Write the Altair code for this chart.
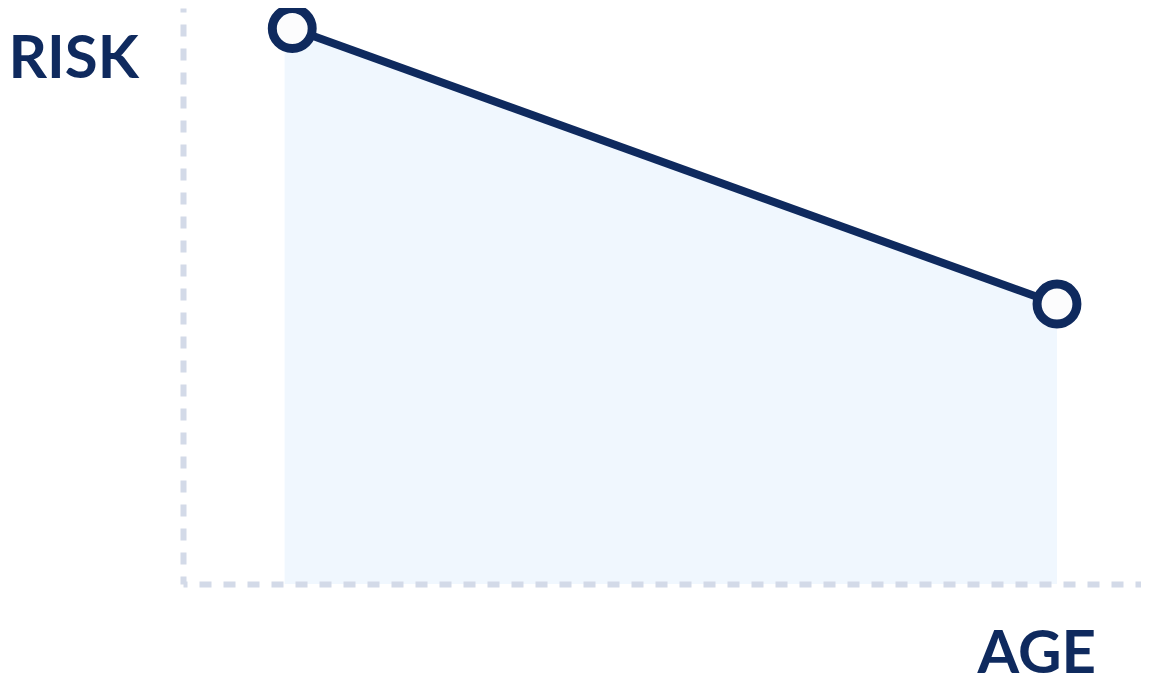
import altair as alt
import pandas as pd

# Schematic values
ages = [1, 8]
risks = [10, 5.04]
area_ages = [0.93, 8]
area_risks = [10.05, 5.04]

x_domain = [0, 8.769]
y_domain = [0, 10.37]

NAVY = "#0f2a5e"
DASH = "#d3dae8"
FILL = "#f0f7fe"

pts = pd.DataFrame({"age": ages, "risk": risks})
area_df = pd.DataFrame({"age": area_ages, "risk": area_risks})

x_scale = alt.Scale(domain=x_domain, nice=False, zero=False)
y_scale = alt.Scale(domain=y_domain, nice=False, zero=False)

x_axis = alt.Axis(
    title="AGE", labels=False, ticks=False, grid=False,
    domainColor=DASH, domainWidth=6, domainDash=[12, 12], domainDashOffset=8,
    titleFont="Lato", titleFontSize=60, titleFontWeight="bold", titleColor=NAVY,
    titleAlign="left", titleBaseline="alphabetic", titleX=794, titleY=88,
    zindex=1,
)
y_axis = alt.Axis(
    title="RISK", labels=False, ticks=False, grid=False,
    domainColor=DASH, domainWidth=6, domainDash=[12, 12], domainDashOffset=4,
    titleFont="Lato", titleFontSize=60, titleFontWeight="bold", titleColor=NAVY,
    titleAngle=0, titleAlign="left", titleBaseline="alphabetic", titleX=-175, titleY=69,
    zindex=1,
)

area = alt.Chart(area_df).mark_area(color=FILL, opacity=1).encode(
    x=alt.X("age:Q", scale=x_scale, axis=x_axis),
    y=alt.Y("risk:Q", scale=y_scale, axis=y_axis),
)

line = alt.Chart(pts).mark_line(color=NAVY, strokeWidth=8).encode(
    x=alt.X("age:Q", scale=x_scale),
    y=alt.Y("risk:Q", scale=y_scale),
)

points = alt.Chart(pts).mark_point(
    shape="circle", filled=True, fill="#fcfcfd", stroke=NAVY,
    strokeWidth=9, size=1590, opacity=1, fillOpacity=1, strokeOpacity=1,
).encode(
    x=alt.X("age:Q", scale=x_scale),
    y=alt.Y("risk:Q", scale=y_scale),
)

chart = alt.layer(area, line, points).properties(
    width=958,
    height=576,
    padding={"left": 175, "top": 0, "right": 0, "bottom": 90},
    autosize=alt.AutoSizeParams(type="none"),
    background="white",
).configure_view(stroke=None)

chart.save("out.html", embed_options={"renderer": "svg", "actions": False})
